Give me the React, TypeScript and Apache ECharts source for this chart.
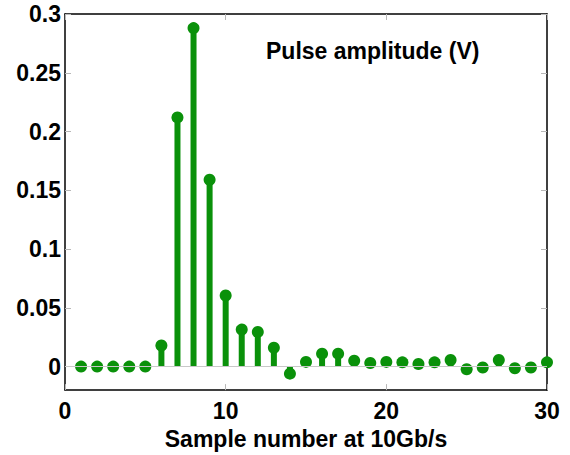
import React, { useEffect, useRef } from "react";
import * as echarts from "echarts";

const samples = [1, 2, 3, 4, 5, 6, 7, 8, 9, 10, 11, 12, 13, 14, 15, 16, 17, 18, 19, 20, 21, 22, 23, 24, 25, 26, 27, 28, 29, 30];
const amplitudes = [0, 0, 0, 0, 0, 0.018, 0.212, 0.288, 0.159, 0.0605, 0.0315, 0.0295, 0.016, -0.006, 0.004, 0.011, 0.011, 0.005, 0.003, 0.004, 0.0036, 0.0022, 0.0036, 0.0056, -0.0022, -0.0008, 0.0056, -0.0014, -0.0008, 0.0036];
const yTicks = [0, 0.05, 0.1, 0.15, 0.2, 0.25, 0.3];
const xTicks = [0, 10, 20, 30];
const titleText = "Pulse amplitude (V)";
const xName = "Sample number at 10Gb/s";

const GREEN = "#0a910a";
const FONT = "'Liberation Sans', Arial, sans-serif";

export default function App() {
  const ref = useRef<HTMLDivElement>(null);
  useEffect(() => {
    if (!ref.current) return;
    const chart = echarts.init(ref.current, undefined, { renderer: "svg" });
    const pts = samples.map((s, i) => [s, amplitudes[i]]);
    const labelStyle = { fontFamily: FONT, fontWeight: "bold" as const, fontSize: 23, color: "#000" };
    const tickStyle = { show: true, inside: true, length: 6, lineStyle: { color: "#b8b8b8", width: 1 } };
    chart.setOption({
      animation: false,
      backgroundColor: "#fff",
      title: {
        text: titleText,
        left: 261,
        top: 34,
        textStyle: { fontFamily: FONT, fontWeight: "bold", fontSize: 23, color: "#000" },
      },
      grid: { left: 65, right: 23, top: 14, bottom: 61, containLabel: false },
      xAxis: [
        {
          type: "value",
          min: 0,
          max: 30,
          interval: 10,
          position: "bottom",
          splitLine: { show: false },
          axisLine: { show: true, onZero: false, lineStyle: { color: "#000", width: 1.5 } },
          axisTick: { ...tickStyle, customValues: xTicks },
          axisLabel: { ...labelStyle, margin: 9, customValues: xTicks },
          name: xName,
          nameLocation: "middle",
          nameGap: 29,
          nameTextStyle: { fontFamily: FONT, fontWeight: "bold", fontSize: 23, color: "#000" },
        },
        {
          type: "value",
          min: 0,
          max: 30,
          interval: 10,
          position: "top",
          splitLine: { show: false },
          axisLine: { show: true, onZero: false, lineStyle: { color: "#000", width: 1.5 } },
          axisTick: tickStyle,
          axisLabel: { show: false },
        },
      ],
      yAxis: [
        {
          type: "value",
          min: -0.02,
          max: 0.3,
          position: "left",
          splitLine: { show: false },
          axisLine: { show: true, onZero: false, lineStyle: { color: "#000", width: 1.5 } },
          axisTick: { ...tickStyle, customValues: yTicks },
          axisLabel: {
            ...labelStyle,
            margin: 4,
            padding: [3, 0, 0, 0],
            customValues: yTicks,
            formatter: (v: number) => String(Math.round(v * 100) / 100),
          },
        },
        {
          type: "value",
          min: -0.02,
          max: 0.3,
          position: "right",
          splitLine: { show: false },
          axisLine: { show: true, onZero: false, lineStyle: { color: "#000", width: 1.5 } },
          axisTick: { ...tickStyle, customValues: yTicks },
          axisLabel: { show: false, customValues: yTicks },
        },
      ],
      series: [
        {
          type: "line",
          data: [],
          silent: true,
          z: 1,
          markLine: {
            silent: true,
            symbol: "none",
            label: { show: false },
            lineStyle: { color: "#c8c8c8", width: 1, type: "solid" },
            data: [{ yAxis: 0 }],
          },
        },
        {
          type: "bar",
          data: pts,
          barWidth: 6,
          itemStyle: { color: GREEN, opacity: 1 },
          z: 2,
        },
        {
          type: "scatter",
          data: pts,
          symbol: "circle",
          symbolSize: 12,
          itemStyle: { color: GREEN, opacity: 1 },
          z: 3,
        },
      ],
    });
    return () => chart.dispose();
  }, []);
  return <div ref={ref} style={{ position: "fixed", left: 0, top: 0, width: 570, height: 455 }} />;
}
